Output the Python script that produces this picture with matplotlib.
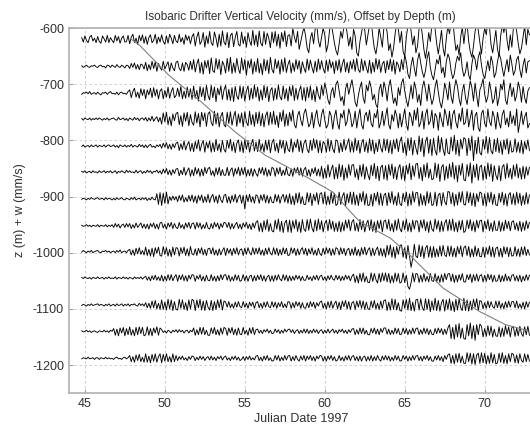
"""
Isobaric drifter vertical velocity, each trace offset by its depth.
"""

import numpy as np
import matplotlib.pyplot as plt

# ---------------------------------------------------------------------------
# Data: w in mm/s, one value per 0.1 day,
# one line per day starting at Julian date 44.8
# ---------------------------------------------------------------------------
T0 = 44.8
DT = 0.1

depths = [-620, -668, -716, -762, -810, -856, -904, -952, -998, -1045, -1093, -1140, -1188]

w_620 = """
3 -5 6 -2 -6 4 7 -3 2 -6
5 -4 -7 6 1 -5 7 -6 3 -2
-6 7 -3 5 -7 2 6 -5 -4 7
-8 4 9 -6 2 -9 7 -3 8 -7
5 -9 3 8 -6 -2 9 -8 4 -5
8 -4 -9 6 -7 9 2 -8 7 -3
-6 9 -5 3 -9 8 -2 6 -8 5
10 -12 4 13 -9 -3 12 -14 6 -8
14 -6 -11 13 2 -14 9 -12 15 -5
-10 12 -15 7 11 -13 3 14 -9 -12
13 -8 5 -14 12 -3 -11 16 -10 8
-13 15 -7 -12 14 -9 11 2 -15 13
-6 14 -12 9 -16 12 -4 15 -13 7
8 -12 20 4 -6 14 -18 -4 10 22
6 -16 -24 2 12 -8 18 26 -2 -14
4 20 8 -22 -10 16 30 12 -6 -20
-28 -8 14 2 24 32 10 -12 4 -18
18 6 -24 -30 -4 12 28 16 -10 8
26 34 6 -16 -26 -8 20 4 -14 22
30 12 -20 -8 -32 -16 10 28 18 -6
14 -22 -30 4 24 36 14 -10 6 -24
-12 20 30 8 -18 -34 -14 12 -4 26
32 18 -8 -26 -6 16 -16 -30 2 24
10 30 36 6 -20 -10 -28 4 22 -8
18 28 -4 -22 -32 -12 14 30 16 -6
-26 2 20 8 34 22 -10 -24 -4 16
-18 -30 6 26 12 30 -2 -20 8 -14
22 32 14 -8 -26 -16 4 24 -10 18
8
"""
w_668 = """
1 -2 0 2 -1 -2 1 0 2 -1
-2 1 2 -1 0 -3 2 1 -2 2
0 -2 3 -1 -2 2 0 -3 2 1
-4 5 -2 6 -5 3 -6 4 2 -5
7 -8 3 -6 9 -4 8 -9 5 -2
-7 9 -5 2 8 -9 6 -3 -8 7
9 -4 -8 6 -9 7 3 -7 9 -6
12 -10 4 13 -12 7 -14 10 -3 11
-13 15 -8 -11 14 -5 12 -15 9 2
-12 14 -9 16 -13 6 -11 14 -4 -13
15 -7 12 -16 10 -3 13 -14 8 -10
14 -12 5 -15 13 -8 11 -13 16 -6
-12 13 -4 10 -14 12 -9 15 -11 3
11 -12 6 -9 12 -5 10 -13 8 -3
-11 13 -7 11 -2 -12 9 -10 13 -6
10 -4 -12 11 -9 12 -3 8 -13 10
-7 12 -11 4 13 -10 7 -12 9 -5
12 -9 14 -6 -11 13 -8 10 -3 -12
11 -13 7 -10 14 -5 12 -11 4 9
-12 10 -6 13 -9 11 -14 8 2 -10
12 -6 20 8 -14 -22 2 16 -4 -18
10 24 6 -10 -20 -8 14 26 -2 -16
-24 -6 12 4 20 -12 -2 -20 8 22
14 -8 -22 -14 6 18 10 24 -4 -18
-10 8 -16 -24 4 20 12 -6 16 26
2 -14 -22 -6 10 -8 18 6 -20 -12
8 22 14 -4 -18 -2 12 -10 20 4
-16 -8 12 18 -6 -20 2 14 -12 8
10
"""
w_716 = """
-2 1 0 2 -1 3 -2 0 1 -2
2 -1 -3 1 0 2 -2 1 3 -1
0 -2 2 -3 1 2 -1 0 -2 3
6 -8 3 9 -7 2 -9 8 -4 7
-10 6 -3 9 -8 10 -5 7 -10 4
8 -10 5 -7 11 -9 3 10 -8 -4
9 -6 12 -10 4 -9 11 -7 8 -11
13 -9 5 -14 12 -6 10 -13 14 -4
-12 14 -8 11 -15 9 -3 13 -11 6
14 -12 7 -13 10 -15 12 -5 -11 13
-9 12 -14 4 13 -12 9 -10 15 -7
11 -14 6 -12 14 -8 12 -15 5 10
-13 9 -11 15 -6 -12 13 -10 8 -14
12 -5 14 -13 9 -11 4 13 -12 10
-14 11 -8 13 -12 6 -15 12 -3 -11
14 -4 18 6 -12 -20 2 10 -8 16
22 4 -14 -6 -22 8 18 -2 12 24
6 -16 -24 -4 10 20 -8 -18 14 4
22 10 -12 -2 -20 -26 6 16 -6 20
8 -14 12 24 2 -18 -8 -22 10 -4
18 26 4 -12 -24 -6 14 -10 20 8
-16 -2 -22 10 22 6 -14 16 -4 -20
-10 12 24 2 -16 -26 -8 18 6 -12
20 -6 -18 8 24 12 -10 -22 4 16
-8 -20 2 22 10 -14 18 -4 -24 6
14 26 -2 -16 -6 20 4 -18 -10 12
-22 -8 16 6 24 -12 -20 2 18 -6
10 -14 -4 20 8 -16 12 -8 -18 4
10
"""
w_762 = """
1 -2 2 0 -1 2 -2 1 -1 2
-1 2 0 -2 1 -1 2 -2 0 1
2 -1 -2 3 -1 0 2 -2 1 -3
2 0 -2 3 -1 2 -3 1 2 -2
3 -4 2 -3 5 -4 1 4 -5 3
-9 11 -5 12 -10 4 -12 9 -3 10
12 -10 6 -13 11 -4 12 -12 8 -6
-11 13 -7 10 -14 12 -3 11 -13 9
13 -6 -12 14 -9 11 -14 5 12 -10
-14 12 -8 13 -11 4 14 -13 9 -7
11 -14 13 -5 -12 14 -10 8 -13 12
-8 13 -12 10 -14 6 13 -11 12 -9
14 -10 6 -15 12 -4 16 -13 9 -12
12 -4 16 -10 -16 6 14 -2 -12 10
18 2 -14 -8 12 -16 4 16 -6 -14
8 18 -2 -16 -10 14 6 -18 4 16
-8 -18 10 2 16 -12 -4 18 8 -14
-6 14 -16 4 18 -10 -18 6 12 -4
16 -8 -14 10 2 18 -16 -6 14 -12
4 20 -10 -18 8 -4 16 6 -16 10
-14 2 18 -8 -20 12 4 -12 16 -2
20 -14 -6 14 -18 8 18 -10 -4 16
-16 10 4 -20 12 -2 -14 18 6 -12
14 -18 8 16 -6 -16 10 -4 20 -10
-6 18 -14 2 16 -20 6 12 -16 -22
10 16 -8 -14 18 -4 -12 14 4 -18
12 -6 -16 8 16 -10 2 -14 14 -8
6 -12 18 -24 -6 14 -10 4 12 -16
-8
"""
w_810 = """
-1 2 -2 0 1 -2 2 -1 0 2
-2 1 0 -1 2 -2 1 2 -1 0
2 -2 1 -3 2 0 -1 2 -2 1
-1 3 -2 1 0 -2 3 -1 2 -3
2 -3 1 3 -2 0 -3 2 -1 3
-4 5 -2 6 -5 3 -6 4 -3 5
7 -8 4 -6 9 -7 2 8 -9 5
-10 8 -5 11 -9 3 10 -11 7 -4
9 -11 6 -10 12 -8 4 -11 10 -6
-11 10 -4 12 -9 7 -12 5 11 -10
8 -12 11 -6 10 -11 3 12 -9 7
-10 12 -8 4 -11 10 -7 11 -12 6
12 -9 5 -12 11 -4 10 -13 8 -6
-10 13 -11 7 -3 12 -10 9 -12 5
11 -6 -12 10 -8 13 -4 11 -12 9
-12 8 4 -11 13 -9 10 -5 -12 11
9 -12 6 -10 12 -7 3 13 -11 8
-11 14 -8 10 -13 5 12 -10 7 -12
13 -9 11 -14 6 -10 12 -3 -11 13
-8 12 -12 9 -14 11 -5 13 -10 8
16 -12 6 -17 14 -8 15 -16 10 -4
-15 18 -10 14 -19 8 16 -13 12 -17
14 -8 -16 18 -11 15 -6 -17 13 -12
-14 16 -9 19 -15 10 -18 12 -5 15
12 -17 14 -8 18 -26 10 -14 16 -12
-16 12 -6 17 -13 15 -9 -14 12 -10
14 -12 8 -15 11 -6 13 -14 9 -11
-9 13 -11 7 -12 10 -14 8 -6 11
-8
"""
w_856 = """
1 -1 2 -2 0 1 -2 2 -1 0
-2 2 -1 0 2 -2 1 -1 2 -2
0 2 -3 1 -1 2 0 -2 3 -1
2 -1 0 -2 3 -2 1 2 -3 1
-2 3 -1 2 -3 1 0 3 -2 2
-4 5 -2 6 -5 3 -6 4 -3 5
6 -7 3 -5 8 -6 2 7 -8 4
-7 8 -4 6 -8 5 -7 8 -3 6
8 -6 2 -8 7 -5 8 -7 4 -6
-6 8 -7 3 7 -8 6 -4 8 -7
7 -5 8 -8 4 -7 6 -8 5 -3
-8 7 -3 8 -6 7 -8 4 -7 8
6 -8 7 -4 8 -7 3 -6 8 -5
-7 5 -8 7 -2 8 -6 7 -8 4
8 -7 4 -8 6 -3 8 -7 5 -8
10 -12 6 -11 13 -9 4 12 -13 8
-12 14 -9 12 -15 7 -11 13 -6 12
13 -10 5 -14 12 -8 14 -13 9 -5
-14 12 -7 15 -12 10 -16 8 12 -13
11 -15 13 -6 14 -12 9 -14 6 13
-13 10 -16 12 -4 15 -14 11 -8 14
15 -12 8 -16 13 -9 16 -11 5 -14
-12 16 -10 14 -17 8 13 -15 10 -12
14 -9 17 -13 11 -18 12 -6 15 -14
-16 13 -8 16 -20 12 -10 14 -15 9
12 -15 10 -13 16 -8 14 -17 11 -6
-14 11 -16 9 13 -12 15 -10 6 -13
12 -8 14 -11 7 -13 10 -12 9 -6
8
"""
w_904 = """
-1 1 0 -2 1 -1 2 0 -1 1
2 -1 0 1 -2 2 -1 1 0 -2
1 -2 2 -1 0 2 -1 -2 1 0
-2 2 -1 3 -2 0 1 -2 2 -1
2 -3 1 -2 3 -1 -2 9 -10 11
-12 10 -8 12 -9 4 -3 5 -2 4
-5 6 -3 7 -6 2 -5 6 -4 7
-6 5 -8 6 -3 7 -7 4 -6 8
-7 3 8 -6 5 -8 7 -2 -7 6
8 -7 4 -8 6 -5 8 -7 3 7
-8 6 -18 7 -5 8 -6 4 -8 7
5 -8 7 -3 8 -7 6 -8 4 -6
-7 8 -5 7 -8 3 8 -6 7 -8
9 -10 5 -11 10 -7 11 -9 4 -10
-10 11 -6 10 -12 8 -4 11 -10 9
11 -9 12 -11 5 -10 12 -8 10 -12
-9 12 -10 4 11 -12 9 -7 12 -10
12 -11 7 -12 10 -5 13 -11 9 -12
-11 8 -13 10 -4 12 -11 10 -12 6
10 -12 11 -7 13 -10 5 -12 11 -9
-12 10 -5 12 -13 9 -11 13 -6 11
11 -13 9 -11 6 -12 13 -8 11 -12
-10 12 -13 7 10 -12 11 -5 -11 13
12 -9 11 -13 8 -11 12 -6 13 -10
-11 13 -7 11 -12 10 -14 9 -5 12
10 -12 9 -13 11 -6 12 -10 8 -11
-12 10 -6 12 -11 9 -13 7 11 -10
9 -11 12 -8 10 -12 6 -10 11 -9
7
"""
w_952 = """
1 -1 0 2 -1 1 -2 1 0 -1
2 -2 1 0 -1 2 -2 1 -1 2
-3 4 -2 3 -4 1 3 -3 4 -2
4 -5 2 -4 5 -3 1 5 -4 3
-5 3 -6 4 -2 5 -5 3 -6 5
6 -4 3 -6 5 -2 6 -5 4 -3
-5 6 -4 2 -6 5 -3 6 -5 4
5 -6 6 -3 5 -6 2 -5 6 -4
-6 4 -5 6 -2 5 -6 4 -3 6
5 -3 6 -6 4 -5 2 6 -5 3
-6 5 -2 6 -5 3 -7 5 -4 6
9 -10 5 -11 9 -7 11 -10 4 -9
-11 10 -6 12 -10 8 -12 5 10 -11
10 -12 9 -5 11 -10 7 -12 11 -6
-10 11 -8 12 -4 -11 10 -9 12 -7
9 -11 4 10 -9 11 -6 8 -10 5
-10 8 -11 6 -9 10 -4 11 -9 7
11 -9 5 -10 11 -7 9 -11 3 10
-8 11 -10 7 -12 9 -5 10 -11 8
10 -6 11 -9 4 -11 10 -8 12 -5
-11 9 -7 12 -10 5 -11 10 -6 9
8 -11 10 -4 11 -9 7 -12 9 -6
-10 12 -6 9 -11 8 -10 5 11 -9
11 -8 12 -10 6 -11 9 -7 10 -12
-9 10 -5 11 -9 7 -11 10 -4 9
10 -11 8 -6 11 -9 5 -10 9 -8
-8 9 -10 6 -9 10 -5 8 -9 7
9 -7 5 -9 8 -10 6 -8 9 -5
6
"""
w_998 = """
-1 2 0 -2 1 -1 2 -2 0 1
2 -1 -2 1 0 2 -1 1 -2 0
1 -2 2 -1 3 -2 0 1 -2 2
4 -6 3 -7 6 -4 7 -5 2 -6
8 -7 4 -8 6 -9 7 -3 8 -7
-8 9 -5 7 -8 4 -9 8 -6 7
6 -8 7 -3 8 -7 5 -8 9 -4
-6 5 -7 6 -3 7 -6 4 -7 5
6 -4 7 -6 3 -7 5 -6 2 7
-7 6 -3 5 -7 6 -4 7 -6 3
5 -7 6 -5 7 -2 -6 7 -5 6
-4 7 -6 3 -7 6 -5 7 -3 -6
7 -5 6 -7 4 -6 7 -4 6 -7
-6 7 -3 6 -7 5 -6 3 7 -5
6 -7 5 -4 7 -6 3 -7 6 -4
-7 6 -5 7 -3 6 -7 5 -6 7
5 -6 7 -4 6 -7 3 6 -7 5
-6 8 -7 4 -8 7 -5 8 -6 3
7 -8 6 -7 3 8 -7 6 -8 5
-10 11 -6 12 -10 8 -12 9 -5 11
12 -10 7 -13 11 -9 -28 -12 13 -8
-11 12 -9 10 -12 6 11 -10 9 -11
9 -10 5 -9 10 -8 11 -6 -9 10
-8 10 -9 6 -10 9 -4 10 -9 7
10 -7 9 -10 5 -9 10 -8 6 -9
-9 8 -10 7 -5 10 -9 8 -10 6
8 -9 6 -10 9 -4 8 -9 7 -8
-7 9 -8 5 -9 8 -6 9 -7 4
-6
"""
w_1045 = """
1 -1 2 0 -1 1 -2 1 0 -1
2 -1 0 1 -2 1 -1 2 -1 0
-1 2 -2 1 0 -1 2 -1 1 -2
1 0 -2 2 -1 1 -1 2 -2 1
3 -4 2 -5 4 -3 5 -4 2 -5
5 -6 3 -5 6 -4 6 -5 2 6
-6 5 -3 6 -5 4 -6 5 -2 6
5 -6 4 -2 6 -5 3 -6 5 -4
-5 6 -5 3 -6 4 -5 6 -3 5
6 -4 5 -6 2 -5 6 -4 5 -6
-4 6 -5 4 -6 3 5 -6 4 -5
5 -3 6 -5 4 -6 2 5 -6 4
-6 5 -4 6 -2 -5 6 -4 5 -6
4 -5 3 -4 5 -2 4 -5 3 -4
-4 5 -3 2 -5 4 -3 5 -4 3
5 -4 2 -5 4 -3 5 -2 -4 5
-3 4 -5 3 -4 5 -2 4 -5 3
7 -8 4 -9 8 -6 9 -7 3 -8
-8 9 -6 8 -3 -9 8 -7 9 -5
9 -7 8 -9 4 -8 9 -6 8 -9
-7 9 -8 5 -15 -20 -8 9 -7 8
7 -8 5 -7 8 -6 3 -7 8 -5
-6 8 -7 4 -8 6 -7 8 -3 7
8 -6 7 -8 5 -7 6 -4 8 -7
-7 6 -3 7 -8 6 -5 7 -6 4
6 -7 5 -6 7 -3 6 -7 5 -6
-5 6 -7 4 -6 7 -5 3 -6 5
6 -5 4 -6 5 -7 3 -5 6 -4
5
"""
w_1093 = """
-1 1 0 -2 1 -1 2 -1 0 1
2 -1 1 0 -2 1 -1 2 -2 0
1 -2 2 -1 0 2 -2 1 -1 2
-2 1 0 2 -1 -2 3 -1 2 -2
4 -5 3 -6 7 -5 8 -7 3 -8
9 -8 5 -9 10 -7 9 -10 6 -8
-9 10 -6 9 -8 4 -10 9 -7 10
8 -10 9 -5 10 -9 7 -10 8 -4
-9 8 -10 6 -8 9 -5 10 -9 7
5 -4 6 -5 2 -6 5 -4 6 -3
-5 6 -4 3 -6 5 -2 5 -6 4
6 -5 3 -6 5 -4 6 -3 -5 6
-4 5 -6 4 -3 6 -5 2 -5 6
5 -6 4 -5 6 -2 5 -6 4 -5
-6 4 -5 6 -3 5 -6 4 -2 5
7 -6 3 -7 6 -5 7 -6 2 7
-7 5 -8 7 -3 8 -7 6 -8 4
6 -8 7 -4 8 -6 7 -8 5 -7
-8 7 -5 8 -7 3 -8 7 -6 8
9 -10 5 -9 11 -8 10 -9 4 -10
-11 9 -6 10 -9 12 -10 5 -11 9
10 -9 11 -5 -10 11 -8 10 -12 7
-9 12 -10 8 -11 4 10 -11 9 -8
11 -10 6 -12 10 -9 11 -5 -10 12
-10 9 -11 7 -9 10 -4 11 -10 8
6 -7 4 -6 7 -5 6 -3 -6 7
-5 7 -6 3 -7 6 -5 7 -4 6
6 -5 7 -6 2 -6 5 -7 6 -4
5
"""
w_1140 = """
1 -1 0 2 -1 1 -2 0 1 -1
-2 1 0 -1 2 -1 1 -2 2 0
5 -7 4 -8 6 -3 7 -8 5 -6
8 -7 3 -8 7 -6 8 -4 7 -8
-6 8 -7 5 -8 6 -3 8 -7 6
3 -2 1 -3 2 0 -3 2 -1 3
-2 3 -1 2 -3 1 2 -3 2 -1
6 -7 3 -6 7 -5 7 -6 2 -7
-7 6 -4 7 -6 3 -7 6 -5 7
5 -7 6 -3 7 -6 4 -7 6 -5
-6 7 -5 2 -7 6 -4 7 -6 3
4 -3 2 -4 3 -1 4 -3 2 -4
-3 4 -2 3 -4 2 -3 4 -1 3
4 -2 3 -4 1 3 -4 2 -3 4
-3 4 -4 2 -3 4 -2 3 -4 1
3 -4 2 -3 4 -3 1 4 -3 2
-4 3 -1 4 -3 2 -4 3 -2 4
5 -6 3 -5 6 -4 6 -5 2 -6
-6 5 -3 6 -5 4 -6 5 -2 6
6 -5 4 -6 2 -5 6 -4 5 -6
-5 6 -4 5 -6 3 -5 6 -4 5
6 -6 3 -5 6 -4 5 -6 3 -5
-6 5 -4 6 -3 5 -6 4 -5 6
12 -13 7 -14 12 -10 14 -12 6 -13
-14 12 -8 15 -13 10 -16 12 -6 13
9 -10 5 -9 10 -7 9 -10 4 -8
-9 8 -10 6 -9 10 -5 8 -10 7
8 -9 6 -8 9 -4 -9 8 -6 9
-7
"""
w_1188 = """
-1 1 0 -1 2 -1 0 1 -2 1
1 -2 1 0 -1 2 -1 1 -1 0
-2 1 2 -1 0 -2 1 2 -1 1
5 -6 3 -7 6 -4 7 -6 2 -7
8 -7 4 -8 7 -5 8 -7 3 8
-8 7 -5 8 -6 3 -7 8 -6 5
-4 3 -2 4 -3 1 -4 3 -2 4
3 -4 2 -3 4 -2 3 -4 1 3
-3 4 -3 2 -4 3 -1 4 -3 2
4 -3 1 -4 3 -2 4 -3 2 -4
-2 3 -4 3 -2 4 -3 1 -3 4
5 -4 2 -5 4 -3 5 -4 1 -5
-4 5 -3 5 -5 2 -4 5 -3 4
5 -5 3 -4 5 -2 -5 4 -3 5
-5 4 -2 5 -4 3 -5 4 -1 5
4 -5 3 -5 4 -2 5 -4 3 -5
-3 5 -4 2 -5 4 -3 5 -4 3
5 -4 3 -5 4 -5 2 4 -5 3
-4 5 -5 3 -4 5 -2 -5 4 -3
5 -3 4 -5 2 -4 5 -3 4 -5
-4 5 -2 4 -5 3 -4 5 -3 4
5 -4 3 -5 4 -2 5 -4 3 -5
-5 4 -3 5 -4 3 -6 5 -2 6
8 -9 5 -10 8 -7 9 -8 4 -9
-9 10 -6 9 -10 8 -11 6 9 -9
10 -8 9 -10 5 -9 10 -8 7 -10
-8 9 -7 10 -9 5 -10 8 -6 9
7 -8 6 -9 8 -4 -7 8 -6 7
-5
"""
traces = [w_620, w_668, w_716, w_762, w_810, w_856, w_904,
          w_952, w_998, w_1045, w_1093, w_1140, w_1188]

# grey diagonal line crossing the traces
diag_day = [47.9, 48.4, 50.25, 52.3, 54.4, 56.25, 59.1, 60.5, 61.6, 62.2,
            64.1, 65.3, 67.4, 69.7, 71.3, 72.6]
diag_z = [-620, -630, -684, -732, -785, -826, -869, -892, -927, -945,
          -974, -1004, -1063, -1105, -1128, -1138]

xticks = [45, 50, 55, 60, 65, 70]
yticks = [-600, -700, -800, -900, -1000, -1100, -1200]

# ---------------------------------------------------------------------------
# Plot
# ---------------------------------------------------------------------------
plt.rcParams["font.family"] = ["Liberation Sans", "DejaVu Sans"]
plt.rcParams["font.size"] = 9
plt.rcParams["axes.unicode_minus"] = False

fig = plt.figure(figsize=(5.30, 4.32), dpi=100)
ax = fig.add_axes([0.130, 0.090, 0.875, 0.845])

for z, s in zip(depths, traces):
    w = np.array(s.split(), dtype=float)
    t = T0 + DT * np.arange(len(w))
    ax.plot(t, z + w, color="black", lw=0.65)

ax.plot(diag_day, diag_z, color="#808080", lw=0.8)

ax.set_xlim(44, 73)
ax.set_ylim(-1250, -600)
ax.set_xticks(xticks)
ax.set_yticks(yticks)
ax.grid(True, color="#c8c8c8", linestyle=(0, (3, 3)), lw=0.6)
ax.tick_params(direction="in", length=3, color="#a0a0a0", labelcolor="#303030")
for sp in ax.spines.values():
    sp.set_color("#b0b0b0")
    sp.set_linewidth(1.2)

ax.set_title("Isobaric Drifter Vertical Velocity (mm/s), Offset by Depth (m)",
             fontsize=8.5, color="#303030", pad=6)
ax.set_xlabel("Julian Date 1997", color="#303030", labelpad=2)
ax.set_ylabel("z (m) + w (mm/s)", color="#303030", labelpad=4)

fig.savefig("out.png", dpi=100)
plt.close(fig)
